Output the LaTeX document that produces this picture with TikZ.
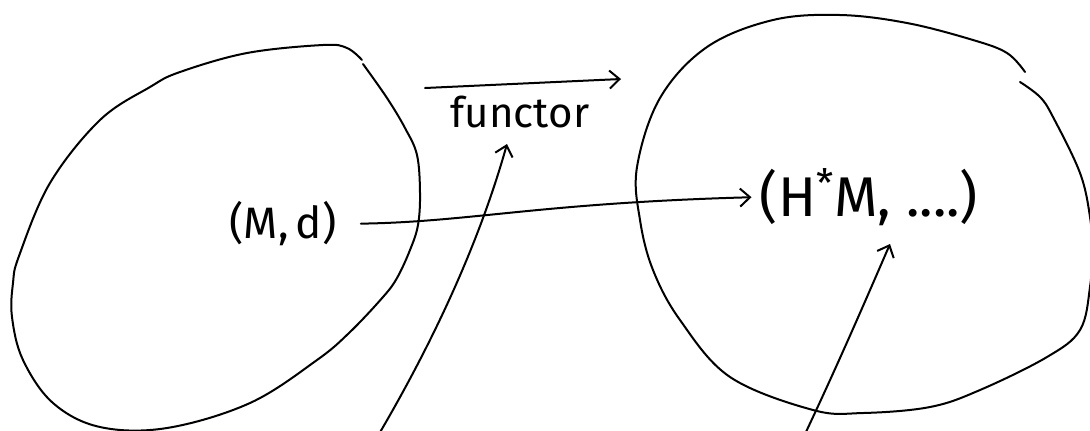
\documentclass[tikz,border=0pt]{standalone}
\usepackage{fontspec}
\setmainfont{Fira Sans}
\usetikzlibrary{arrows.meta}
\begin{document}
\begin{tikzpicture}[x=0.5pt,y=-0.5pt,
  blob/.style={line width=1pt, line join=round, line cap=round},
  arr/.style={line width=1pt, line cap=round, -{Straight Barb[length=5pt,width=9pt,line width=1pt]}},
  lbl/.style={inner sep=0pt, text=black}]
\useasboundingbox (0,0) rectangle (1090,430);
% left blob
\draw[blob] plot[smooth, tension=0.6] coordinates {(363,64) (387,98) (405,128) (417,155) (420,193) (418,225) (410,250) (397,278) (383,297) (350,332) (317,360) (250,403) (167,428) (100,427) (53,403) (23,360) (12,317) (13,283) (19,256) (50,183) (100,120) (150,87) (180,72) (247,53) (323,45) (347,48) (362,60)};
% right blob
\draw[blob] plot[smooth, tension=0.6] coordinates {(1020,82) (1040,97) (1053,117) (1080,173) (1090,217) (1092,250) (1090,287) (1080,330) (1047,357) (980,390) (930,407) (863,413) (813,410) (730,377) (680,320) (653,270) (640,220) (637,167) (660,98) (707,47) (773,20) (840,15) (907,23) (973,40) (1007,53) (1025,72)};
% labels
\node[lbl, font=\fontsize{22}{24}\selectfont] (md) at (283,224) {(M,\,d)};
\node[lbl, font=\fontsize{28}{30}\selectfont] (hm) at (869,197) {(H\textsuperscript{*}M, ....)};
\node[lbl, font=\fontsize{21}{23}\selectfont] (fn) at (520,112) {functor};
% free ends
\coordinate (fa1) at (425,88);
\coordinate (fa2) at (621,79);
\coordinate (b1s) at (379,434);
\coordinate (b1e) at (507,144);
\coordinate (b2s) at (805,434);
\coordinate (b2e) at (890,244);
% arrows
\draw[arr] (fa1) -- (fa2);
\draw[arr, shorten <=12pt, shorten >=4pt] (md.east) .. controls (470,222) and (540,203) .. (hm.west);
\draw[arr] (b1s) .. controls (440,330) and (482,233) .. (b1e);
\draw[arr] (b2s) .. controls (840,360) and (870,290) .. (b2e);
\end{tikzpicture}
\end{document}
